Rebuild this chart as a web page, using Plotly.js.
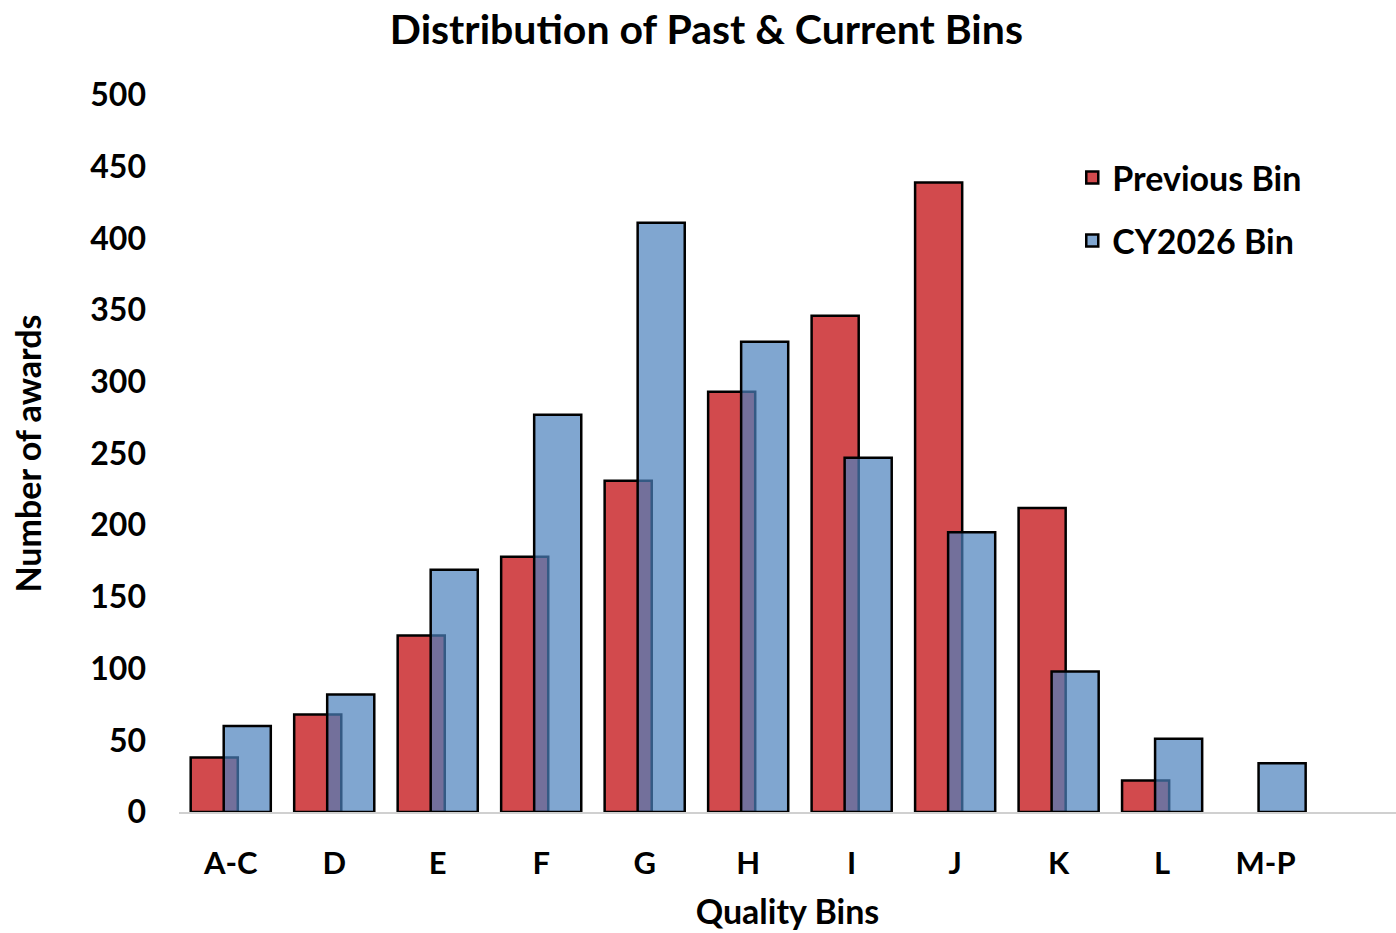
<!DOCTYPE html>
<html>
<head>
<meta charset="utf-8">
<script src="https://cdn.plot.ly/plotly-3.0.1.min.js"></script>
<style>html,body{margin:0;padding:0;background:#fff;}#chart{width:1396px;height:933px;}</style>
</head>
<body>
<div id="chart"></div>
<script>
const categories = ["A-C","D","E","F","G","H","I","J","K","L","M-P"];
const previousBin = [38, 68, 123, 178, 231, 293, 346, 439, 212, 22, null];
const cy2026Bin = [60, 82, 169, 277, 411, 328, 247, 195, 98, 51, 34];
const yTicks = [0,50,100,150,200,250,300,350,400,450,500];

const FONT = "Lato, 'Open Sans', sans-serif";
const barW = 0.455;

const traces = [
  {
    type: "bar", name: "Previous Bin", x: categories, y: previousBin,
    width: barW, offset: -0.387,
    marker: {color: "#d24a4d", line: {color: "#000", width: 2.5}},
    legendgroup: "a"
  },
  {
    type: "bar", name: "CY2026 Bin", x: categories, y: cy2026Bin,
    width: barW, offset: -0.068,
    marker: {color: "rgba(74,128,188,0.7)", line: {color: "#000", width: 2.5}},
    legendgroup: "b"
  }
];

const layout = {
  width: 1396, height: 933,
  margin: {l: 179, r: 0, t: 95, b: 121},
  paper_bgcolor: "#fff", plot_bgcolor: "#fff",
  barmode: "overlay",
  font: {family: FONT, color: "#000", size: 30, weight: 700},
  title: {text: "<b>Distribution of Past &amp; Current Bins</b>", x: 0.506, xanchor: "center", y: 0.968, yanchor: "middle",
          font: {family: FONT, size: 41, color: "#000"}},
  xaxis: {
    type: "category", range: [-0.5, 11.26],
    showline: true, linecolor: "#d0d0d0", linewidth: 2,
    ticks: "", showgrid: false, zeroline: false,
    ticklabelstandoff: 23,
    tickfont: {family: FONT, size: 31, weight: 700},
    title: {text: "<b>Quality Bins</b>", font: {family: FONT, size: 34}, standoff: 20}
  },
  yaxis: {
    range: [0, 500], tickvals: yTicks, ticktext: yTicks.map(String),
    showline: false, showgrid: false, zeroline: false, ticks: "",
    ticklabelstandoff: 32,
    tickfont: {family: FONT, size: 32, weight: 700},
    title: {text: "<b>Number of awards</b>", font: {family: FONT, size: 34}, standoff: 38}
  },
  legend: {
    x: 0.734, y: 0.925, xanchor: "left", yanchor: "top",
    traceorder: "grouped", tracegroupgap: 16,
    bgcolor: "rgba(0,0,0,0)",
    font: {family: FONT, size: 34, weight: 700}
  },
  showlegend: true
};

Plotly.newPlot("chart", traces, layout, {displayModeBar: false, staticPlot: true});
</script>
</body>
</html>
